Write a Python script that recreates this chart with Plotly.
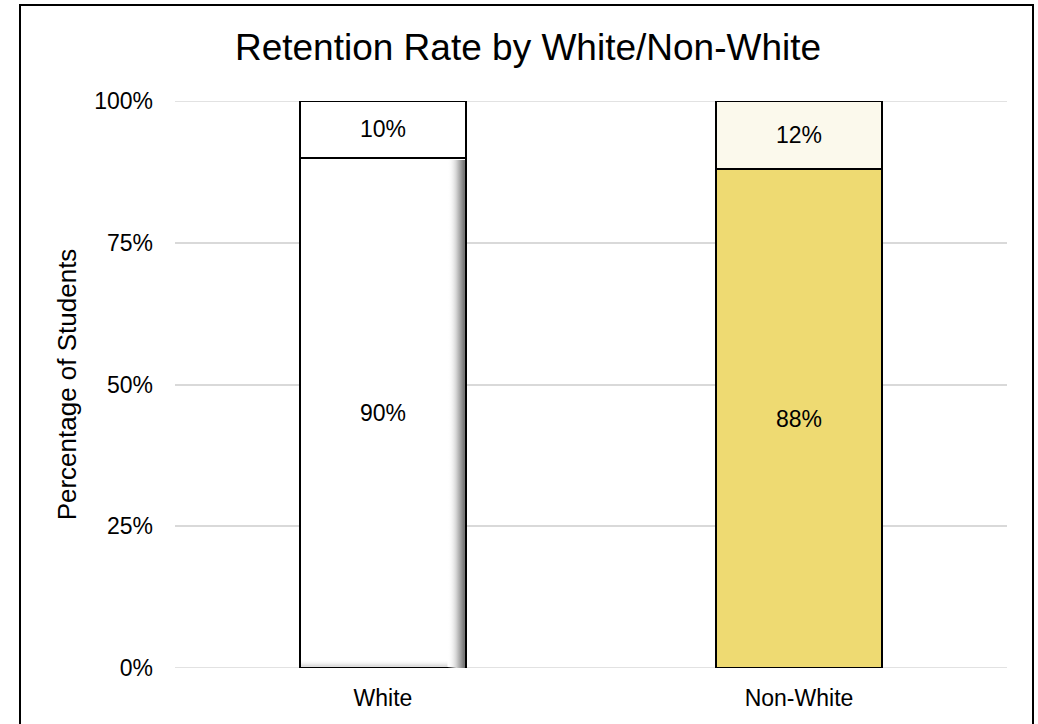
import plotly.graph_objects as go

categories = ["White", "Non-White"]
retained = [90, 88]
not_retained = [10, 12]
y_ticks = [0, 25, 50, 75, 100]
y_tick_labels = ["0%", "25%", "50%", "75%", "100%"]

W, H = 1038, 724
L, R, T, B = 175, 31, 101, 56
bar_width = 0.4

x_pos = list(range(len(categories)))

lower_colors = ["#FFFFFF", "#EEDA72"]
upper_colors = ["#FFFFFF", "#FBF9EC"]

fig = go.Figure()

fig.add_trace(go.Bar(
    x=x_pos, y=retained, width=bar_width,
    marker=dict(color=lower_colors, line=dict(color="#000000", width=1.6)),
    text=[f"{v}%" for v in retained], textposition="inside",
    insidetextanchor="middle", textangle=0,
    textfont=dict(family="Arial, Liberation Sans, sans-serif", size=23, color="#000000"),
    hoverinfo="skip", showlegend=False,
))
fig.add_trace(go.Bar(
    x=x_pos, y=not_retained, width=bar_width,
    marker=dict(color=upper_colors, line=dict(color="#000000", width=1.6)),
    text=[f"{v}%" for v in not_retained], textposition="inside",
    insidetextanchor="middle", textangle=0,
    textfont=dict(family="Arial, Liberation Sans, sans-serif", size=23, color="#000000"),
    hoverinfo="skip", showlegend=False,
))

# inner shadow on the white bar's lower segment (right edge + bottom)
xr = x_pos[0] + bar_width / 2 - 0.003
xl = xr - 0.042
top = retained[0] - 0.4
fig.add_trace(go.Scatter(
    x=[xl, xr, xr, xl, xl], y=[0, 0, top, top, 0], mode="lines",
    line=dict(width=0), fill="toself",
    fillgradient=dict(type="horizontal", colorscale=[[0, "rgba(255,255,255,0)"], [0.5, "#d4d4d4"], [1, "#6a6a6a"]]),
    hoverinfo="skip", showlegend=False,
))
xb0 = x_pos[0] - bar_width / 2 + 0.003
fig.add_trace(go.Scatter(
    x=[xb0, xl, xl, xb0, xb0], y=[0.2, 0.2, 1.5, 1.5, 0.2], mode="lines",
    line=dict(width=0), fill="toself",
    fillgradient=dict(type="vertical", colorscale=[[0, "#cfcfcf"], [1, "rgba(255,255,255,0)"]]),
    hoverinfo="skip", showlegend=False,
))

# gridlines at the range ends (plotly omits them at the plot edges)
for v in (y_ticks[0], y_ticks[-1]):
    fig.add_shape(type="line", xref="paper", yref="y", x0=0, x1=1, y0=v, y1=v,
                  line=dict(color="#D9D9D9", width=1.5), layer="below")

pw = W - L - R
ph = H - T - B
fig.add_shape(type="rect", xref="paper", yref="paper",
              x0=(20 - L) / pw, x1=(1033 - L) / pw,
              y0=-(B + 10) / ph, y1=(H - B - 5) / ph,
              line=dict(color="#000000", width=2), fillcolor="rgba(0,0,0,0)", layer="above")

fig.update_layout(
    width=W, height=H,
    margin=dict(l=L, r=R, t=T, b=B),
    barmode="stack", bargap=0.6,
    paper_bgcolor="#FFFFFF", plot_bgcolor="#FFFFFF",
    font=dict(family="Arial, Liberation Sans, sans-serif", color="#000000"),
    title=dict(text="Retention Rate by White/Non-White",
               font=dict(size=37, color="#000000"),
               x=528 / W, xref="container", xanchor="center",
               y=1 - 47 / H, yref="container", yanchor="middle"),
    xaxis=dict(range=[-0.5, 1.5], tickvals=x_pos, ticktext=categories,
               showgrid=False, zeroline=False, showline=False,
               tickfont=dict(size=23, color="#000000"), ticks="", ticklabelstandoff=14),
    yaxis=dict(range=[0, 100], tickvals=y_ticks, ticktext=y_tick_labels,
               showgrid=True, gridcolor="#D9D9D9", gridwidth=1.5,
               zeroline=False, showline=False, ticks="",
               tickfont=dict(size=23, color="#000000"), ticklabelstandoff=21,
               title=dict(text="Percentage of Students", font=dict(size=26, color="#000000"), standoff=10)),
)

fig.write_html("out.html", config={"displayModeBar": False},
               post_script="document.body.style.margin='0';document.body.style.overflow='hidden';")
